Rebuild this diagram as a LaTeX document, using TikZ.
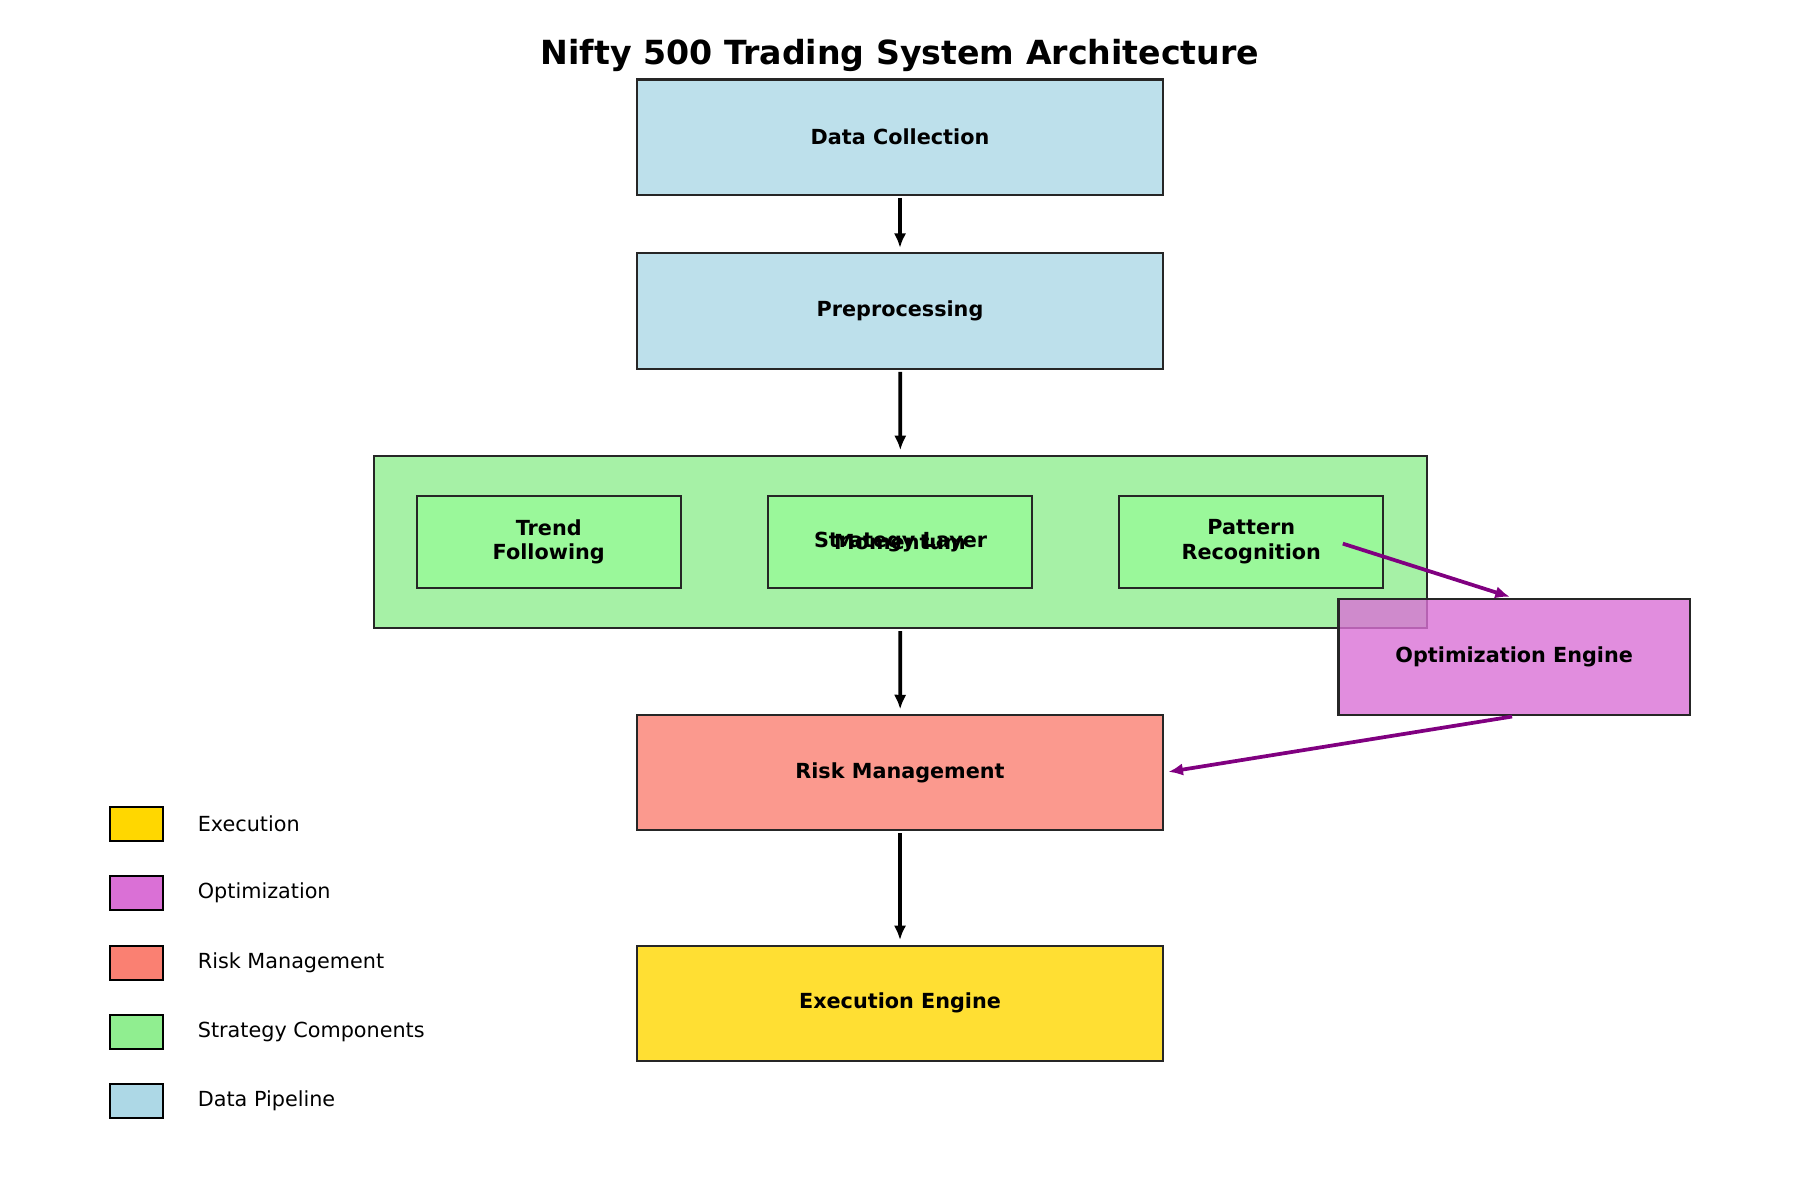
\documentclass[tikz,border=0pt]{standalone}
\usepackage{fontspec}
\setmainfont{DejaVu Sans}
\usetikzlibrary{arrows.meta}
\definecolor{lblue}{RGB}{173,216,230}
\definecolor{lgreen}{RGB}{144,238,144}
\definecolor{pgreen}{RGB}{152,251,152}
\definecolor{salmonc}{RGB}{250,128,114}
\definecolor{goldc}{RGB}{255,215,0}
\definecolor{orchidc}{RGB}{218,112,214}
\definecolor{purplec}{RGB}{128,0,128}
\tikzset{
    block/.style={draw=black!85, line width=1pt, fill opacity=0.8, text opacity=1, inner sep=0pt, font=\fontsize{10}{12}\selectfont\bfseries, align=center},
    mainbox/.style={block, minimum width=8.903cm, minimum height=1.954cm},
    subbox/.style={block, fill=pgreen, minimum width=4.472cm, minimum height=1.555cm},
    flow/.style={line width=1.8pt, -{Latex[length=7pt,width=6pt]}, shorten <=1pt, shorten >=2.2pt},
    optflow/.style={flow, draw=purplec},
    legbox/.style={draw=black, line width=1pt, inner sep=0pt, minimum width=0.894cm, minimum height=0.583cm},
    legtext/.style={anchor=west, inner sep=0pt, font=\fontsize{10}{12}\selectfont}
}
\begin{document}
\begin{tikzpicture}[x=0.01944cm, y=-0.01944cm]
                \useasboundingbox (0,0) rectangle (1568,1045);
                \node[font=\fontsize{16}{19}\selectfont\bfseries] (title) at (784,48) {Nifty 500 Trading System Architecture};

                \node[mainbox, fill=lblue] (data) at (784,119.5) {Data Collection};
                \node[mainbox, fill=lblue] (prep) at (784,271) {Preprocessing};
                \node[block, fill=lgreen, minimum width=17.83cm, minimum height=2.916cm] (strategy) at (784.5,472) {};
                \node[subbox] (trend) at (478,472) {Trend\\Following};
                \node[subbox] (momentum) at (784,472) {Momentum};
                \node[subbox] (pattern) at (1090,472) {Pattern\\Recognition};
                \node[font=\fontsize{10}{12}\selectfont\bfseries] (stratlabel) at (strategy.center) {Strategy Layer};
                \node[mainbox, fill=salmonc] (risk) at (784,673) {Risk Management};
                \node[mainbox, fill=goldc] (exec) at (784,874) {Execution Engine};
                \node[block, fill=orchidc, minimum width=5.949cm, minimum height=1.963cm] (opt) at (1319,572.5) {Optimization Engine};

                \draw[flow] (data) -- (prep);
                \draw[flow] (prep) -- (strategy);
                \draw[flow] (strategy) -- (risk);
                \draw[flow] (risk) -- (exec);

                % feedback through the optimizer
                \coordinate (optsrc) at (1168,473);
                \draw[optflow] (optsrc) -- (opt.north);
                \draw[optflow] (opt.south) -- (risk.east);

                \node[legbox, fill=goldc] (legexec) at (119,718) {};
                \node[legtext] (legexectxt) at (172,718) {Execution};
                \node[legbox, fill=orchidc] (legopt) at (119,778) {};
                \node[legtext] (legopttxt) at (172,778) {Optimization};
                \node[legbox, fill=salmonc] (legrisk) at (119,839) {};
                \node[legtext] (legrisktxt) at (172,839) {Risk Management};
                \node[legbox, fill=lgreen] (legstrat) at (119,899) {};
                \node[legtext] (legstrattxt) at (172,899) {Strategy Components};
                \node[legbox, fill=lblue] (legdata) at (119,959) {};
                \node[legtext] (legdatatxt) at (172,959) {Data Pipeline};
            \end{tikzpicture}
\end{document}
